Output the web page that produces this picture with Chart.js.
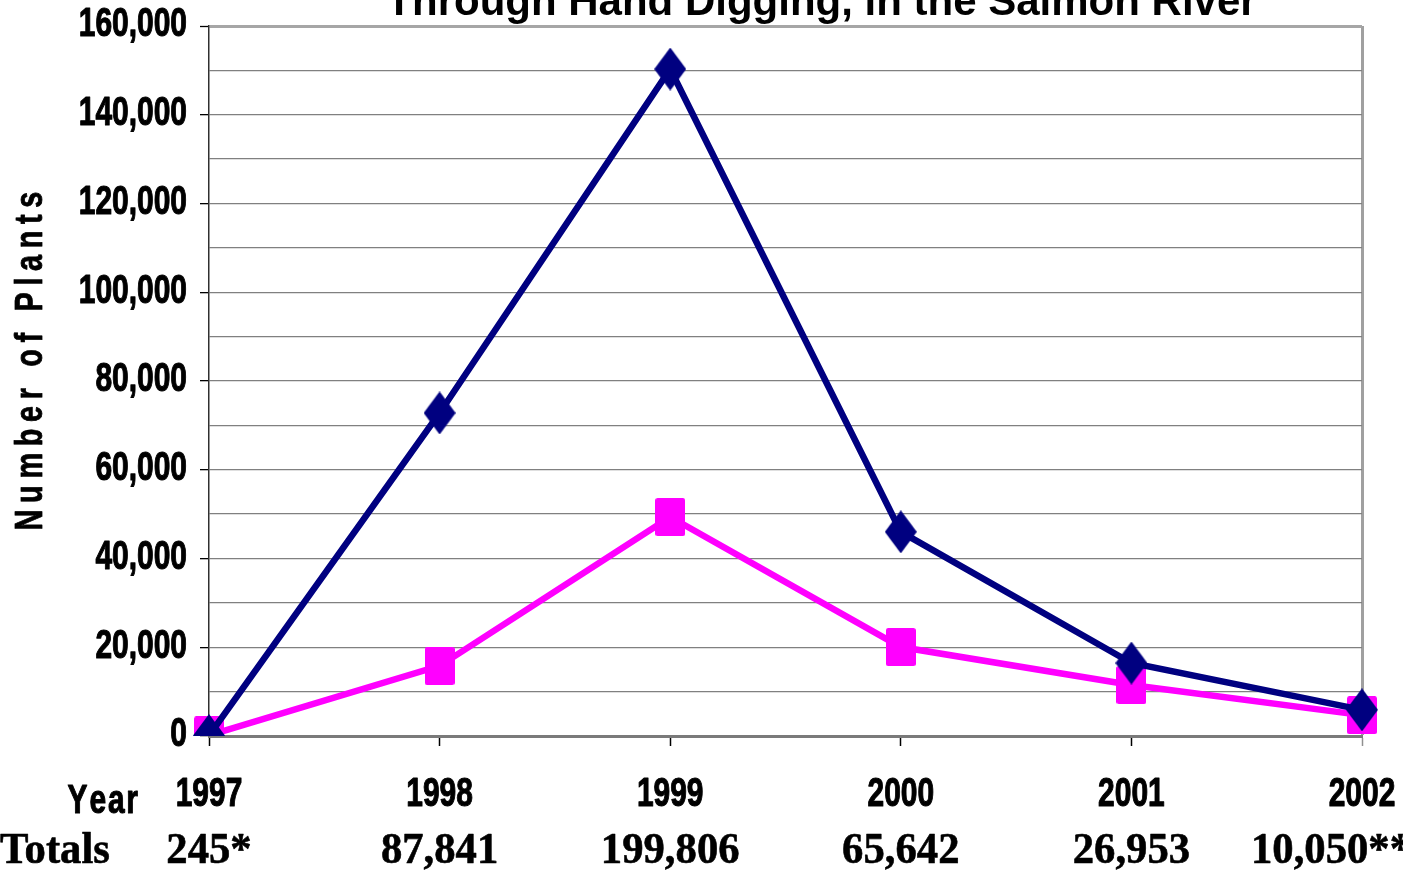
<!DOCTYPE html>
<html>
<head>
<meta charset="utf-8">
<script src="https://cdn.jsdelivr.net/npm/chart.js@4.4.1/dist/chart.umd.min.js"></script>
<style>
  html, body { margin: 0; padding: 0; background: #fff; overflow: hidden; }
  #wrap { width: 1403px; height: 873px; }
</style>
</head>
<body>
<div id="wrap"><canvas id="c" width="1403" height="873"></canvas></div>
<script>
// ---- data ----
const years = ['1997', '1998', '1999', '2000', '2001', '2002'];
const seriesA = [100, 72800, 150300, 46000, 16450, 5900];   // navy diamonds
const seriesB = [145, 15800, 49350, 20050, 11500, 4700];    // magenta squares
const totals = ['245*', '87,841', '199,806', '65,642', '26,953', '10,050**'];
const yTicks = [0, 20000, 40000, 60000, 80000, 100000, 120000, 140000, 160000];
const titleText = 'Through Hand Digging, in the Salmon River';
const yTitle = 'Number of Plants';
const rowLabelYear = 'Year';
const rowLabelTotals = 'Totals';

const SANS = '"Liberation Sans", Arial, sans-serif';
const SERIF = '"Liberation Serif", "Times New Roman", serif';
const NAVY = '#000080';
const MAGENTA = '#FF00FF';

function makeDiamond(w, h, color) {
  const c = document.createElement('canvas');
  c.width = w; c.height = h;
  const g = c.getContext('2d');
  g.fillStyle = color;
  g.beginPath();
  g.moveTo(w / 2, 0); g.lineTo(w, h / 2); g.lineTo(w / 2, h); g.lineTo(0, h / 2);
  g.closePath(); g.fill();
  return c;
}
function makeRect(w, h, color) {
  const c = document.createElement('canvas');
  c.width = w; c.height = h;
  const g = c.getContext('2d');
  g.fillStyle = color;
  const r = 2.5;
  g.beginPath();
  g.moveTo(r, 0); g.lineTo(w - r, 0); g.quadraticCurveTo(w, 0, w, r);
  g.lineTo(w, h - r); g.quadraticCurveTo(w, h, w - r, h);
  g.lineTo(r, h); g.quadraticCurveTo(0, h, 0, h - r);
  g.lineTo(0, r); g.quadraticCurveTo(0, 0, r, 0);
  g.closePath(); g.fill();
  return c;
}
const diamond = makeDiamond(32, 43, NAVY);
const square = makeRect(30, 38, MAGENTA);

// condensed text: horizontal scale sx around the anchor point, optional extra weight via stroke
function cText(ctx, text, x, y, align, sx, spacing, weight) {
  ctx.save();
  ctx.translate(x, y);
  ctx.scale(sx, 1);
  spacing = spacing || 0;
  ctx.strokeStyle = ctx.fillStyle;
  ctx.lineWidth = weight || 0;
  ctx.lineJoin = 'round';
  const put = (s, px) => {
    ctx.fillText(s, px, 0);
    if (weight) ctx.strokeText(s, px, 0);
  };
  if (!spacing) {
    ctx.textAlign = align;
    put(text, 0);
  } else {
    const ws = [...text].map(ch => ctx.measureText(ch).width);
    const total = ws.reduce((p, q) => p + q, 0) + spacing * (ws.length - 1);
    let cx = align === 'center' ? -total / 2 : (align === 'right' ? -total : 0);
    ctx.textAlign = 'left';
    [...text].forEach((ch, i) => { put(ch, cx); cx += ws[i] + spacing; });
  }
  ctx.restore();
}

const extras = {
  id: 'extras',
  afterDraw(chart) {
    const ctx = chart.ctx;
    const a = chart.chartArea;
    const xs = chart.scales.x;
    const ys = chart.scales.y;
    ctx.save();
    ctx.fillStyle = '#000';
    ctx.textBaseline = 'alphabetic';
    // title (partly clipped at top)
    ctx.font = 'bold 42px ' + SANS;
    cText(ctx, titleText, (a.left + a.right) / 2 + 36, a.top - 11, 'center', 1);
    // y tick labels
    ctx.font = 'bold 41px ' + SANS;
    ctx.textBaseline = 'middle';
    yTicks.forEach(v => {
      cText(ctx, v.toLocaleString('en-US'), a.left - 22, ys.getPixelForValue(v) - 1, 'right', 0.73, 0, 1.1);
    });
    // x tick labels
    years.forEach((yr, i) => {
      cText(ctx, yr, xs.getPixelForValue(i), a.bottom + 59, 'center', 0.73, 0, 1.1);
    });
    // row label "Year"
    cText(ctx, rowLabelYear, a.left - 71, a.bottom + 66, 'right', 0.73, 2.5, 1.1);
    // y axis title
    ctx.save();
    ctx.translate(30, (a.top + a.bottom) / 2 - 20);
    ctx.rotate(-Math.PI / 2);
    ctx.font = 'bold 39px ' + SANS;
    cText(ctx, yTitle, 0, 1, 'center', 0.74, 9, 0.8);
    ctx.restore();
    // totals row
    ctx.font = 'bold 44px ' + SERIF;
    const tsx = 0.97;
    cText(ctx, rowLabelTotals, 0, a.bottom + 116, 'left', tsx, 0, 0.6);
    totals.forEach((t, i) => {
      const w = ctx.measureText(t).width * tsx;
      let left = xs.getPixelForValue(i) - w / 2;
      if (left + w > chart.width + 8) left = chart.width + 8 - w;
      cText(ctx, t, left, a.bottom + 116, 'left', tsx, 0, 0.6);
    });
    ctx.restore();
  }
};

new Chart(document.getElementById('c'), {
  type: 'line',
  data: {
    labels: years,
    datasets: [
      {
        data: seriesA,
        borderColor: NAVY,
        backgroundColor: NAVY,
        borderWidth: 6.5,
        pointStyle: diamond,
        pointRadius: 16,
        tension: 0,
        fill: false
      },
      {
        data: seriesB,
        borderColor: MAGENTA,
        backgroundColor: MAGENTA,
        borderWidth: 6.5,
        pointStyle: square,
        pointRadius: 16,
        tension: 0,
        fill: false
      }
    ]
  },
  options: {
    responsive: false,
    animation: false,
    devicePixelRatio: 1,
    layout: { padding: { left: 0, top: 26, right: 41, bottom: 0 } },
    plugins: { legend: { display: false }, title: { display: false }, tooltip: { enabled: false } },
    scales: {
      x: {
        type: 'category',
        offset: false,
        afterFit: s => { s.height = 137; },
        border: { display: true, color: '#7a7a7a', width: 3 },
        grid: {
          drawOnChartArea: true,
          color: c => (c.index === years.length - 1 ? '#a0a0a0' : 'rgba(0,0,0,0)'),
          lineWidth: c => (c.index === years.length - 1 ? 3 : 1),
          tickColor: c => (c.index === years.length - 1 ? '#909090' : '#000'),
          tickWidth: 1.5,
          tickLength: 10
        },
        ticks: { display: false, autoSkip: false, maxRotation: 0 }
      },
      y: {
        min: 0,
        max: 160000,
        afterFit: s => { s.width = 209; },
        afterBuildTicks: s => {
          const t = [];
          for (let v = 0; v <= 160000; v += 10000) t.push({ value: v });
          s.ticks = t;
        },
        border: { display: true, color: '#303030', width: 1.5 },
        grid: {
          color: c => (c.tick.value === 160000 ? '#a6a6a6' : (c.tick.value === 0 ? 'rgba(0,0,0,0)' : '#808080')),
          lineWidth: c => (c.tick.value === 160000 ? 3 : 1.3),
          tickColor: c => (yTicks.includes(c.tick.value) ? '#000' : 'rgba(0,0,0,0)'),
          tickWidth: 1.3,
          tickLength: 9
        },
        ticks: { display: false, autoSkip: false }
      }
    }
  },
  plugins: [extras]
});
</script>
</body>
</html>
